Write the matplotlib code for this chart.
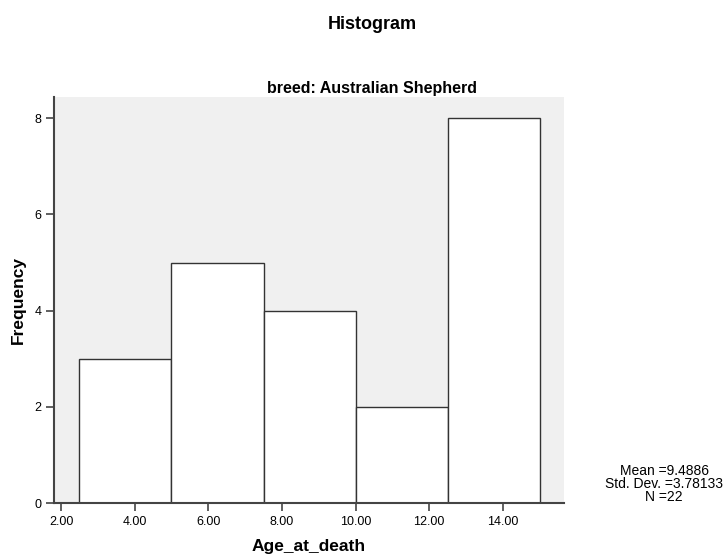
import numpy as np
import matplotlib.pyplot as plt

plt.rcParams['font.family'] = ['Liberation Sans', 'DejaVu Sans']

# histogram bins
bin_edges = [2.5, 5.0, 7.5, 10.0, 12.5, 15.0]
counts = [3, 5, 4, 2, 8]
x_ticks = [2, 4, 6, 8, 10, 12, 14]
y_ticks = [0, 2, 4, 6, 8]
stats_lines = ["Mean =9.4886", "Std. Dev. =3.78133", "N =22"]

fig = plt.figure(figsize=(7.25, 5.56), dpi=100)
ax = fig.add_axes([0.0745, 0.0953, 0.7034, 0.730])
ax.set_facecolor('#f0f0f0')

widths = np.diff(bin_edges)
ax.bar(bin_edges[:-1], counts, width=widths, align='edge',
       color='white', edgecolor='#333333', linewidth=1.0, zorder=2)

ax.set_xlim(1.81, 15.66)
ax.set_ylim(0, 8.44)
ax.set_xticks(x_ticks)
ax.set_xticklabels(["%.2f" % t for t in x_ticks])
ax.set_yticks(y_ticks)
ax.tick_params(direction='out', length=6, width=1.2, labelsize=9,
               color='#444444', pad=3)

for s in ['top', 'right']:
    ax.spines[s].set_visible(False)
for s in ['left', 'bottom']:
    ax.spines[s].set_linewidth(1.5)
    ax.spines[s].set_color('#444444')

ax.set_xlabel("Age_at_death", fontsize=12.5, fontweight='bold')
ax.xaxis.set_label_coords(0.5, -0.118)
ax.xaxis.label.set_va('baseline')
ax.set_ylabel("Frequency", fontsize=12.5, fontweight='bold')
ax.yaxis.set_label_coords(-0.0696, 0.5)
ax.yaxis.label.set_va('center')

fig.text(0.513, 0.9478, "Histogram", ha='center', va='baseline',
         fontsize=13, fontweight='bold')
fig.text(0.513, 0.8327, "breed: Australian Shepherd", ha='center', va='baseline',
         fontsize=11.5, fontweight='bold')
fig.text(0.916, 0.1295, "\n".join(stats_lines), ha='center', va='center',
         fontsize=10, linespacing=0.95)

fig.savefig("out.png", dpi=100)
